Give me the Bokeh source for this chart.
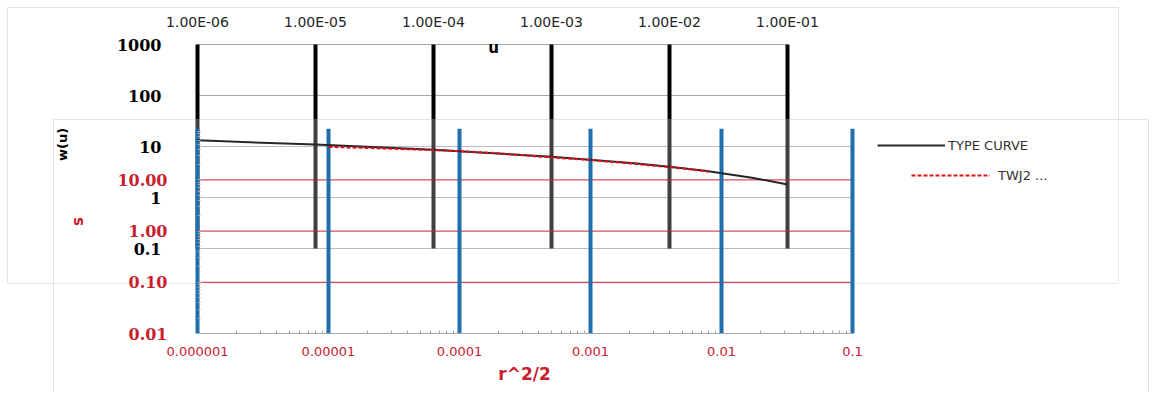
from bokeh.plotting import figure
from bokeh.models import (Range1d, LogScale, LogAxis, FixedTicker, Legend,
                          LegendItem, BoxAnnotation, Label)
from bokeh.embed import file_html
from bokeh.resources import INLINE

# ---------------- data ----------------
u_ticks = [1e-6, 1e-5, 1e-4, 1e-3, 1e-2, 1e-1]
u_labels = ["1.00E-06", "1.00E-05", "1.00E-04", "1.00E-03", "1.00E-02", "1.00E-01"]
w_ticks = [0.1, 1, 10, 100, 1000]
w_labels = ["0.1", "1", "10", "100", "1000"]
r2_ticks = [1e-6, 1e-5, 1e-4, 1e-3, 1e-2, 1e-1]
r2_labels = ["0.000001", "0.00001", "0.0001", "0.001", "0.01", "0.1"]
s_ticks = [0.01, 0.1, 1, 10]
s_labels = ["0.01", "0.10", "1.00", "10.00"]
s_top = 100

type_u = [1e-6, 1e-5, 1e-4, 1e-3, 5e-3, 1e-2, 2e-2, 5e-2, 1e-1]
type_w = [13.2, 10.9, 8.6, 6.3, 4.7, 4.0, 3.35, 2.45, 1.8]

twj2_r2 = [1e-5, 2e-5, 5e-5, 1e-4, 2e-4, 5e-4, 1e-3, 2e-3, 5e-3, 8e-3]
twj2_s = [44, 42, 39, 36.5, 33, 27.5, 24.5, 21, 16.8, 14.5]

# ---------------- layout / styling ----------------
W, H = 1152, 392
X_FIRST = 197          # pixel of the first decade on both x axes
R2_DEC, U_DEC = 131.0, 118.0   # pixels per decade
S_Y, S_DEC = 333.0, 51.2       # pixel of s = 0.01
W_Y, W_DEC = 248.0, 51.0       # pixel of w = 0.1

RED = "#c8202e"
RED_LINE = "#d0202c"
BLUE = "#1f6fae"
GRAY = "#a6a6a6"


def x_range(v0, ppd):
    return Range1d(v0 * 10 ** (-X_FIRST / ppd), v0 * 10 ** ((W - X_FIRST) / ppd))


def y_range(v0, p0, ppd):
    return Range1d(v0 * 10 ** (-(H - p0) / ppd), v0 * 10 ** (p0 / ppd))


p = figure(width=W, height=H, output_backend="svg", toolbar_location=None,
           x_axis_type=None, y_axis_type=None,
           x_range=x_range(r2_ticks[0], R2_DEC),
           y_range=y_range(s_ticks[0], S_Y, S_DEC), min_border=0)
p.x_scale = LogScale()
p.y_scale = LogScale()
p.extra_x_ranges = {"u": x_range(u_ticks[0], U_DEC)}
p.extra_x_scales = {"u": LogScale()}
p.extra_y_ranges = {"w": y_range(w_ticks[0], W_Y, W_DEC)}
p.extra_y_scales = {"w": LogScale()}
p.outline_line_color = None
p.background_fill_color = "white"
p.border_fill_color = "white"
p.xgrid.visible = False
p.ygrid.visible = False

# ---- upper chart (type curve) ----
g1 = p.segment(x0=[r2_ticks[0]] * 3, x1=[r2_ticks[-1]] * 3, y0=w_ticks[:3], y1=w_ticks[:3],
               y_range_name="w", line_color=GRAY, line_width=1)
g2 = p.segment(x0=[u_ticks[0]] * 2, x1=[u_ticks[-1]] * 2, y0=w_ticks[3:], y1=w_ticks[3:],
               x_range_name="u", y_range_name="w", line_color=GRAY, line_width=1)
bars_u = p.segment(x0=u_ticks, x1=u_ticks, y0=[w_ticks[0]] * len(u_ticks),
                   y1=[w_ticks[-1]] * len(u_ticks), x_range_name="u", y_range_name="w",
                   line_color="black", line_width=4)
for r in (g1, g2, bars_u):
    r.level = "image"

# ---- chart-area frames, lower chart drawn over upper ----
upper_box = BoxAnnotation(left=7, right=1118, top=7, bottom=283,
                          left_units="canvas", right_units="canvas",
                          top_units="canvas", bottom_units="canvas",
                          fill_alpha=0, line_color=GRAY, line_width=1, level="image")
p.add_layout(upper_box)
lower_box = BoxAnnotation(left=53, right=1148, top=119, bottom=H + 10,
                          left_units="canvas", right_units="canvas",
                          top_units="canvas", bottom_units="canvas",
                          fill_color="white", fill_alpha=0.25,
                          line_color=GRAY, line_width=1, level="underlay")
p.add_layout(lower_box)

# ---- lower chart (s vs r^2/2) ----
p.segment(x0=[r2_ticks[0]] * 3, x1=[r2_ticks[-1]] * 3, y0=s_ticks[1:], y1=s_ticks[1:],
          line_color=RED_LINE, line_width=1)
p.segment(x0=r2_ticks, x1=r2_ticks, y0=[s_ticks[0]] * len(r2_ticks),
          y1=[s_top] * len(r2_ticks), line_color=BLUE, line_width=4)

type_r = p.line(type_u, type_w, x_range_name="u", y_range_name="w",
                line_color="#262626", line_width=2)
twj2_r = p.line(twj2_r2, twj2_s, line_color="#e0101a", line_width=2,
                line_dash="4 2")

# ---- axes (fixed at the plot-area edges) ----
r2_minor = [k * 10.0 ** e for e in range(-6, -1) for k in range(2, 10)]
xb = LogAxis(ticker=FixedTicker(ticks=r2_ticks, minor_ticks=r2_minor),
             major_label_overrides={t: l for t, l in zip(r2_ticks, r2_labels)},
             bounds=(r2_ticks[0], r2_ticks[-1]), fixed_location=s_ticks[0],
             axis_line_color=GRAY, major_tick_in=0, major_tick_out=0,
             minor_tick_in=3, minor_tick_out=0, minor_tick_line_color=GRAY,
             major_label_text_color=RED, major_label_text_font_size="13px",
             major_label_text_font="DejaVu Sans", major_label_standoff=13)
p.add_layout(xb, "below")

xt = LogAxis(x_range_name="u", y_range_name="w", ticker=FixedTicker(ticks=u_ticks),
             major_label_overrides={t: l for t, l in zip(u_ticks, u_labels)},
             bounds=(u_ticks[0], u_ticks[-1]), fixed_location=w_ticks[-1],
             axis_line_color=None, major_tick_line_color=None, minor_tick_line_color=None,
             major_label_text_color="#262626", major_label_text_font_size="14px",
             major_label_text_font="DejaVu Sans", major_label_standoff=9)
p.add_layout(xt, "above")

s_minor = [k * 10.0 ** e for e in range(-2, 2) for k in range(2, 10)]
ys = LogAxis(ticker=FixedTicker(ticks=s_ticks, minor_ticks=s_minor),
             major_label_overrides={t: l for t, l in zip(s_ticks, s_labels)},
             bounds=(s_ticks[0], s_top), fixed_location=r2_ticks[0],
             axis_line_color=None, major_tick_in=5, major_tick_out=0,
             major_tick_line_color=GRAY, minor_tick_in=3, minor_tick_out=0,
             minor_tick_line_color=GRAY,
             major_label_text_color=RED, major_label_text_font_size="16px",
             major_label_text_font="DejaVu Serif", major_label_text_font_style="bold",
             major_label_standoff=30)
p.add_layout(ys, "left")

yw = LogAxis(y_range_name="w", ticker=FixedTicker(ticks=w_ticks),
             major_label_overrides={t: l for t, l in zip(w_ticks, w_labels)},
             bounds=(w_ticks[0], w_ticks[-1]), fixed_location=r2_ticks[0],
             axis_line_color=None, major_tick_line_color=None, minor_tick_line_color=None,
             major_label_text_color="black", major_label_text_font_size="16px",
             major_label_text_font="DejaVu Serif", major_label_text_font_style="bold",
             major_label_standoff=30)
p.add_layout(yw, "left")

# ---- axis titles ----
def title(text, x, y, color="black", size="15px", angle=0.0):
    p.add_layout(Label(x=x, y=y, x_units="canvas", y_units="canvas", text=text,
                       angle=angle, text_color=color, text_font="DejaVu Sans",
                       text_font_style="bold", text_font_size=size,
                       text_align="center", text_baseline="middle"))


title("u", 493, 47)
title("w(u)", 62, 144, size="13px", angle=1.5708)
title("s", 77, 221, color=RED, size="15px", angle=1.5708)
title("r^2/2", 524, 373, color=RED, size="17px")

# ---- legends ----
common = dict(padding=0, margin=0, border_line_color=None, background_fill_alpha=0,
              glyph_height=16, label_height=16, label_text_font_size="13px",
              label_text_font="DejaVu Sans", label_text_color="#333333")
leg1 = Legend(items=[LegendItem(label="TYPE CURVE", renderers=[type_r])],
              location=(877, H - 153), glyph_width=68, label_standoff=3, **common)
leg2 = Legend(items=[LegendItem(label="TWJ2 ...", renderers=[twj2_r])],
              location=(911, H - 183), glyph_width=79, label_standoff=8, **common)
p.add_layout(leg1)
p.add_layout(leg2)

open("out.html", "w").write(file_html(p, INLINE))
